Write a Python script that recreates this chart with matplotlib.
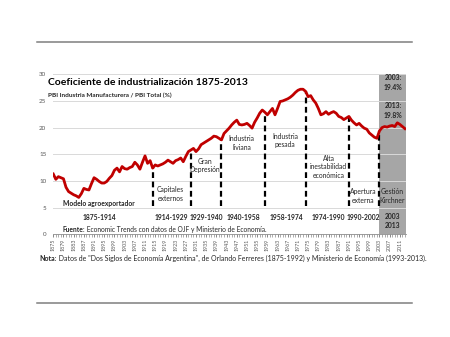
import matplotlib

matplotlib.use("Agg")
import matplotlib.pyplot as plt

plt.rcParams["font.family"] = ["Lato", "DejaVu Sans"]

# ---------------------------------------------------------------- data
YEARS = list(range(1875, 2014))
COEF = [
    11.3, 10.3, 10.8, 10.6, 10.4, 8.8, 8.0, 7.7, 7.4, 7.2,          # 1875-1884
    6.9, 7.6, 8.6, 8.4, 8.3, 9.5, 10.6, 10.3, 9.9, 9.6,             # 1885-1894
    9.6, 9.9, 10.5, 11.0, 12.0, 12.4, 11.7, 12.7, 12.3, 12.2,       # 1895-1904
    12.5, 12.7, 13.5, 13.0, 12.2, 13.5, 14.7, 13.3, 13.8, 12.4,     # 1905-1914
    13.0, 12.8, 13.0, 13.2, 13.5, 13.9, 13.6, 13.3, 13.8, 14.0,     # 1915-1924
    14.3, 13.6, 14.6, 15.5, 15.8, 16.1, 15.5, 16.0, 16.8, 17.1,     # 1925-1934
    17.4, 17.7, 18.0, 18.4, 18.3, 18.0, 17.7, 18.9, 19.4, 19.9,     # 1935-1944
    20.5, 21.0, 21.4, 20.6, 20.5, 20.6, 20.8, 20.4, 19.9, 21.0,     # 1945-1954
    21.8, 22.7, 23.3, 22.9, 22.4, 23.0, 23.6, 22.4, 23.6, 24.9,     # 1955-1964
    25.0, 25.2, 25.4, 25.7, 26.1, 26.6, 27.0, 27.2, 27.2, 26.8,     # 1965-1974
    25.8, 26.0, 25.2, 24.6, 23.6, 22.4, 22.6, 23.0, 22.5, 22.8,     # 1975-1984
    23.0, 22.7, 22.1, 21.9, 21.5, 21.8, 22.1, 21.4, 20.9, 20.5,     # 1985-1994
    20.8, 20.3, 19.9, 19.7, 19.0, 18.6, 18.2, 18.0, 19.4, 20.0,     # 1995-2004
    20.2, 20.1, 20.3, 20.4, 20.2, 20.9, 20.6, 20.2, 19.8,           # 2005-2013
]

BREAKS = [1914, 1929, 1941, 1958, 1974, 1991, 2003]
ERA_NAMES = ["Modelo agroexportador", "Capitales\nexternos", "Gran\nDepresión",
             "Industria\nliviana", "Industria\npesada", "Alta\ninestabilidad\neconómica",
             "Apertura\nexterna", "Gestión\nKirchner"]
ERA_X = [1893, 1921, 1934.5, 1949, 1966, 1983, 1996.6, 2008]
ERA_Y = [5.8, 7.5, 12.9, 17.1, 17.6, 12.7, 7.2, 7.2]
PERIODS = ["1875-1914", "1914-1929", "1929-1940", "1940-1958", "1958-1974",
           "1974-1990", "1990-2002", "2003\n2013"]
PERIOD_X = [1893, 1921.5, 1935, 1949.5, 1966.5, 1983, 1996.6, 2008]

RED = "#c00000"
GREY_TXT = "#595959"
DARK = "#262626"

fig = plt.figure(figsize=(4.5, 3.37), dpi=100)
ax = fig.add_axes([0.1184, 0.305, 0.7838, 0.4745])

# shaded Kirchner years
ax.axvspan(2003, 2013.4, color="#a6a6a6", lw=0, zorder=0)
ax.grid(axis="y", color="#d9d9d9", lw=0.7, zorder=1)

lookup = dict(zip(YEARS, COEF))
for b in BREAKS:
    ax.plot([b, b], [5.2, lookup[b]], color="black", lw=1.6,
            dashes=(2.6, 1.6), zorder=2)

ax.plot(YEARS, COEF, color=RED, lw=2.0, zorder=3, solid_joinstyle="round")

for name, x, y in zip(ERA_NAMES, ERA_X, ERA_Y):
    ax.text(x, y, name, ha="center", va="center", fontsize=4.9,
            fontweight="bold" if name.startswith("Modelo") else "normal",
            color=DARK, linespacing=1.25, zorder=4)
for lab, x in zip(PERIODS, PERIOD_X):
    if "\n" in lab:
        ax.text(x, 3.9, lab, ha="center", va="top", fontsize=4.9,
                fontweight="bold", color=DARK, linespacing=1.3, zorder=4)
    else:
        ax.text(x, 3.1, lab, ha="center", va="center", fontsize=4.9,
                fontweight="bold", color=DARK, zorder=4)

ax.text(2008.3, 28.5, "2003:\n19.4%", ha="center", va="center", fontsize=4.9,
        fontweight="bold", color=DARK, linespacing=1.5)
ax.text(2008.3, 23.3, "2013:\n19.8%", ha="center", va="center", fontsize=4.9,
        fontweight="bold", color=DARK, linespacing=1.5)

t = ax.text(1878.5, 0.8, "Fuente:", fontsize=4.8, fontweight="bold",
            color=DARK, va="center")
ax.annotate(" Economic Trends con datos de OJF y Ministerio de Economía.",
            xy=(1, 0.5), xycoords=t, va="center", fontsize=4.8, color=DARK)

ax.set_xlim(1875, 2013.4)
ax.set_ylim(0, 30)
ax.set_yticks(range(0, 31, 5))
ax.set_xticks(range(1875, 2013, 4))
ax.set_xticks(range(1875, 2014), minor=True)
ax.tick_params(axis="x", labelrotation=90, labelsize=3.8, colors=GREY_TXT,
               length=2, width=0.5, pad=1.5)
ax.tick_params(axis="x", which="minor", length=2, width=0.5, color="#8c8c8c")
ax.tick_params(axis="y", labelsize=4.5, colors=GREY_TXT, length=0, pad=5)
for s in ("top", "right", "left"):
    ax.spines[s].set_visible(False)
ax.spines["bottom"].set_color("#8c8c8c")
ax.spines["bottom"].set_linewidth(0.6)

fig.text(0.107, 0.754, "Coeficiente de industrialización 1875-2013",
         fontsize=7.5, fontweight="bold", color="black", va="center")
fig.text(0.107, 0.718, "PBI Industria Manufacturera / PBI Total (%)",
         fontsize=4.6, fontweight="bold", color=DARK, va="center")

n = fig.text(0.087, 0.234, "Nota:", fontsize=5.0, fontweight="bold",
             color=DARK, va="center")
fig.add_artist(plt.Annotation(
    ' Datos de "Dos Siglos de Economía Argentina", de Orlando Ferreres '
    "(1875-1992) y Ministerio de Economía (1993-2013).",
    xy=(1, 0.5), xycoords=n, va="center", fontsize=5.0, color=DARK))

# frame rules above and below
fig.add_artist(plt.Line2D([0.082, 0.916], [0.875, 0.875], color="#7f7f7f", lw=1.1))
fig.add_artist(plt.Line2D([0.082, 0.916], [0.101, 0.101], color="#7f7f7f", lw=1.1))

fig.savefig("out.png", dpi=100)
